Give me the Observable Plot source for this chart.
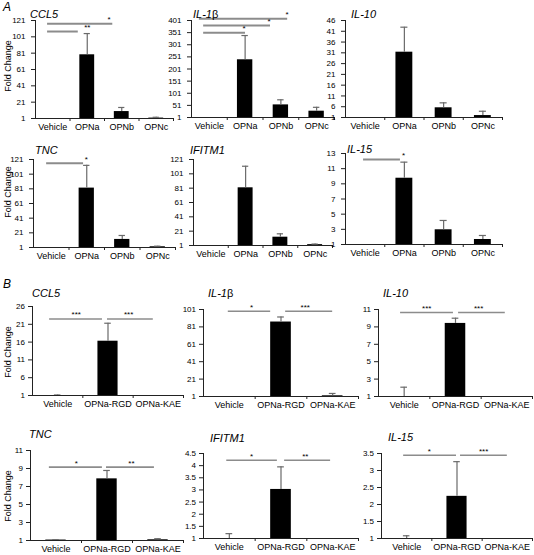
<!DOCTYPE html>
<html><head><meta charset="utf-8">
<script src="https://cdn.jsdelivr.net/npm/d3@7"></script>
<script src="https://cdn.jsdelivr.net/npm/@observablehq/plot@0.6"></script>
<style>
body{margin:0;background:#fff;font-family:"Liberation Sans",Arial,sans-serif;}
#fig{position:relative;width:534px;height:555px;overflow:hidden;background:#fff;}
#fig svg{position:absolute;}
.t{position:absolute;font-style:italic;font-size:11px;line-height:1;white-space:nowrap;color:#000;}
.t .g{font-style:normal;}
.pl{position:absolute;font-style:italic;font-size:12px;line-height:1;}
.lab{position:absolute;font-size:9px;line-height:1;white-space:nowrap;transform:translate(-50%,-50%) rotate(-90deg);}
</style></head><body><div id="fig"></div>
<script>
// ---------- categories ----------
const catsA = ["Vehicle", "OPNa", "OPNb", "OPNc"];
const catsB = ["Vehicle", "OPNa-RGD", "OPNa-KAE"];

// ---------- panel A values (mean, upper error) ----------
const aCCL5 = [1, 79, 9.5, 1.5];
const aCCL5Err = [null, 105, 14.5, 2.5];
const aIL1B = [1, 239, 53, 27];
const aIL1BErr = [null, 339, 74, 43];
const aIL10 = [1, 31.3, 5.5, 1.9];
const aIL10Err = [null, 42.9, 7.8, 3.9];
const aTNC = [1, 82, 12, 2];
const aTNCErr = [null, 113, 17.4, 2.8];
const aIFITM1 = [1, 81.5, 12.6, 2.2];
const aIFITM1Err = [null, 111.6, 17.3, 3];
const aIL15 = [1, 9.74, 2.94, 1.66];
const aIL15Err = [null, 11.86, 4.17, 2.19];

// ---------- panel B values ----------
const bCCL5 = [1, 16.25, 1];
const bCCL5Err = [1.15, 21.3, null];
const bIL1B = [1, 86.6, 1.8];
const bIL1BErr = [null, 92.4, 4.5];
const bIL10 = [1, 9.4, 1];
const bIL10Err = [2.07, 10.0, null];
const bTNC = [1.05, 7.85, 1.08];
const bTNCErr = [1.08, 8.78, 1.2];
const bIFITM1 = [1, 3.02, 1];
const bIFITM1Err = [1.2, 3.95, null];
const bIL15 = [1, 2.24, 1];
const bIL15Err = [1.08, 3.26, null];

// ---------- y tick values ----------
const ticks121 = [1, 21, 41, 61, 81, 101, 121];
const ticks401 = [1, 51, 101, 151, 201, 251, 301, 351, 401];
const ticks46 = [1, 6, 11, 16, 21, 26, 31, 36, 41, 46];
const ticks13 = [1, 3, 5, 7, 9, 11, 13];
const ticks26 = [1, 6, 11, 16, 21, 26];
const ticks101 = [1, 21, 41, 61, 81, 101];
const ticks11 = [1, 3, 5, 7, 9, 11];
const ticks45 = [1, 1.5, 2, 2.5, 3, 3.5, 4, 4.5];
const ticks35 = [1, 1.5, 2, 2.5, 3, 3.5];

// ---------- significance brackets (category units) ----------
const sigACCL5 = [{x1: -0.15, x2: 1.74, y: 117, lx: 1.63, label: "*"}, {x1: -0.15, x2: 0.74, y: 107.5, lx: 1.0, label: "**"}];
const sigAIL1B = [{x1: -0.28, x2: 2.19, y: 408, lx: 2.17, label: "*"}, {x1: -0.16, x2: 1.71, y: 380, lx: 1.67, label: "*"}, {x1: -0.16, x2: 1.01, y: 350, lx: 0.97, label: "*"}];
const sigATNC = [{x1: -0.13, x2: 0.91, y: 116, lx: 0.99, label: "*"}];
const sigAIL15 = [{x1: -0.04, x2: 0.9, y: 12.2, lx: 0.98, label: "*"}];
const sigBCCL5 = [{x1: -0.16, x2: 0.89, y: 22.5, lx: 0.37, label: "***"}, {x1: 0.99, x2: 1.9, y: 22.5, lx: 1.41, label: "***"}];
const sigBIL1B = [{x1: -0.02, x2: 0.8, y: 99, lx: 0.43, label: "*"}, {x1: 1.09, x2: 2.0, y: 99, lx: 1.47, label: "***"}];
const sigBIL10 = [{x1: -0.07, x2: 0.96, y: 10.65, lx: 0.44, label: "***"}, {x1: 1.06, x2: 1.97, y: 10.65, lx: 1.45, label: "***"}];
const sigBTNC = [{x1: -0.13, x2: 0.91, y: 9.15, lx: 0.4, label: "*"}, {x1: 0.99, x2: 1.93, y: 9.15, lx: 1.48, label: "**"}];
const sigBIFITM1 = [{x1: -0.05, x2: 0.93, y: 4.22, lx: 0.43, label: "*"}, {x1: 1.07, x2: 1.96, y: 4.22, lx: 1.47, label: "**"}];
const sigBIL15 = [{x1: -0.06, x2: 0.99, y: 3.45, lx: 0.45, label: "*"}, {x1: 1.07, x2: 2.0, y: 3.45, lx: 1.53, label: "***"}];

const fig = document.getElementById("fig");

function panel(o) {
  const n = o.cats.length;
  const mL = 34, mR = 6, mT = 30, mB = 18;
  const W = o.x1 - o.x0 + mL + mR, H = o.yBot - o.yTop + mT + mB;
  const yMax = o.ticks[o.ticks.length - 1];
  const rows = o.cats.map((c, i) => ({i, c, v: o.vals[i], e: o.errs[i]}));
  const errRows = rows.filter(d => d.e != null);
  const svg = Plot.plot({
    width: W, height: H,
    marginLeft: mL, marginRight: mR, marginTop: mT, marginBottom: mB,
    style: {background: "transparent", fontFamily: "'Liberation Sans', Arial, sans-serif", fontSize: "9px", overflow: "visible", color: "#000"},
    x: {domain: [-0.5, n - 0.5]},
    y: {domain: [1, yMax]},
    marks: [
      Plot.rectY(rows, {x1: d => d.i - o.bw, x2: d => d.i + o.bw, y1: 1, y2: "v", fill: "#000"}),
      Plot.ruleX(errRows, {x: "i", y1: "v", y2: "e", stroke: "#6a6a6a", strokeWidth: 1.2}),
      Plot.ruleY(errRows, {x1: d => d.i - o.cw, x2: d => d.i + o.cw, y: "e", stroke: "#6a6a6a", strokeWidth: 1.2}),
      Plot.ruleX([-0.5], {y1: 1, y2: yMax, stroke: "#222"}),
      Plot.ruleY([1], {x1: -0.5, x2: n - 0.5, stroke: "#222"}),
      Plot.axisY({ticks: o.ticks, tickFormat: d => String(d), tickSize: 4, tickPadding: o.tp, label: null, stroke: "#222", fontSize: 8}),
      Plot.axisX({ticks: d3.range(n).map(i => i + 0.5), tickFormat: () => "", tickSize: 3, label: null, stroke: "#222"}),
      Plot.axisX({ticks: d3.range(n), tickFormat: i => o.cats[i], tickSize: 0, tickPadding: 5.5, label: null, fontSize: 9}),
      Plot.ruleY(o.sigs, {x1: "x1", x2: "x2", y: "y", stroke: "#8c8c8c", strokeWidth: o.sw}),
      Plot.text(o.sigs, {x: "lx", y: "y", text: "label", dy: -1.5, lineAnchor: "bottom", fontSize: 8})
    ]
  });
  svg.style.left = (o.x0 - mL) + "px";
  svg.style.top = (o.yTop - mT) + "px";
  fig.appendChild(svg);
  const t = document.createElement("div");
  t.className = "t";
  t.innerHTML = o.title;
  t.style.left = o.tx + "px";
  t.style.top = (o.ty - 9.3) + "px";
  fig.appendChild(t);
}

const A = {cats: catsA, bw: 0.215, cw: 0.09, tp: 6, sw: 2};
const B = {cats: catsB, bw: 0.2, cw: 0.065, tp: 3.5, sw: 1.6};

panel({...A, title: "CCL5", vals: aCCL5, errs: aCCL5Err, ticks: ticks121, sigs: sigACCL5, x0: 35, x1: 173, yTop: 20, yBot: 118, tx: 30, ty: 18});
panel({...A, title: "IL-1<span class='g'>β</span>", vals: aIL1B, errs: aIL1BErr, ticks: ticks401, sigs: sigAIL1B, x0: 191, x1: 334, yTop: 20, yBot: 117, tx: 193, ty: 18});
panel({...A, title: "IL-10", vals: aIL10, errs: aIL10Err, ticks: ticks46, sigs: [], x0: 345, x1: 502, yTop: 20, yBot: 117, tx: 351, ty: 18});
panel({...A, title: "TNC", vals: aTNC, errs: aTNCErr, ticks: ticks121, sigs: sigATNC, x0: 33, x1: 175, yTop: 159, yBot: 247, tx: 35, ty: 154});
panel({...A, title: "IFITM1", vals: aIFITM1, errs: aIFITM1Err, ticks: ticks121, sigs: [], x0: 193, x1: 332, yTop: 159, yBot: 245, tx: 190, ty: 154});
panel({...A, title: "IL-15", vals: aIL15, errs: aIL15Err, ticks: ticks13, sigs: sigAIL15, x0: 345, x1: 502, yTop: 153, yBot: 244, tx: 347, ty: 153});

panel({...B, title: "CCL5", vals: bCCL5, errs: bCCL5Err, ticks: ticks26, sigs: sigBCCL5, x0: 32, x1: 183, yTop: 306, yBot: 395, tx: 32, ty: 297});
panel({...B, title: "IL-1<span class='g'>β</span>", vals: bIL1B, errs: bIL1BErr, ticks: ticks101, sigs: sigBIL1B, x0: 203, x1: 358, yTop: 309, yBot: 396, tx: 208, ty: 297});
panel({...B, title: "IL-10", vals: bIL10, errs: bIL10Err, ticks: ticks11, sigs: sigBIL10, x0: 378, x1: 532, yTop: 309, yBot: 396, tx: 383, ty: 297});
panel({...B, title: "TNC", vals: bTNC, errs: bTNCErr, ticks: ticks11, sigs: sigBTNC, x0: 30, x1: 183, yTop: 450, yBot: 540, tx: 29, ty: 438});
panel({...B, title: "IFITM1", vals: bIFITM1, errs: bIFITM1Err, ticks: ticks45, sigs: sigBIFITM1, x0: 203, x1: 358, yTop: 453, yBot: 538, tx: 210, ty: 442});
panel({...B, title: "IL-15", vals: bIL15, errs: bIL15Err, ticks: ticks35, sigs: sigBIL15, x0: 381, x1: 532, yTop: 453, yBot: 538, tx: 388, ty: 441});

// panel letters and y labels
[["A", 3, 1], ["B", 3, 278]].forEach(([s, x, y]) => {
  const d = document.createElement("div"); d.className = "pl"; d.textContent = s;
  d.style.left = x + "px"; d.style.top = y + "px"; fig.appendChild(d);
});
[66, 192, 352, 496].forEach(cy => {
  const d = document.createElement("div"); d.className = "lab"; d.textContent = "Fold Change";
  d.style.left = "8px"; d.style.top = cy + "px"; fig.appendChild(d);
});
</script></body></html>
